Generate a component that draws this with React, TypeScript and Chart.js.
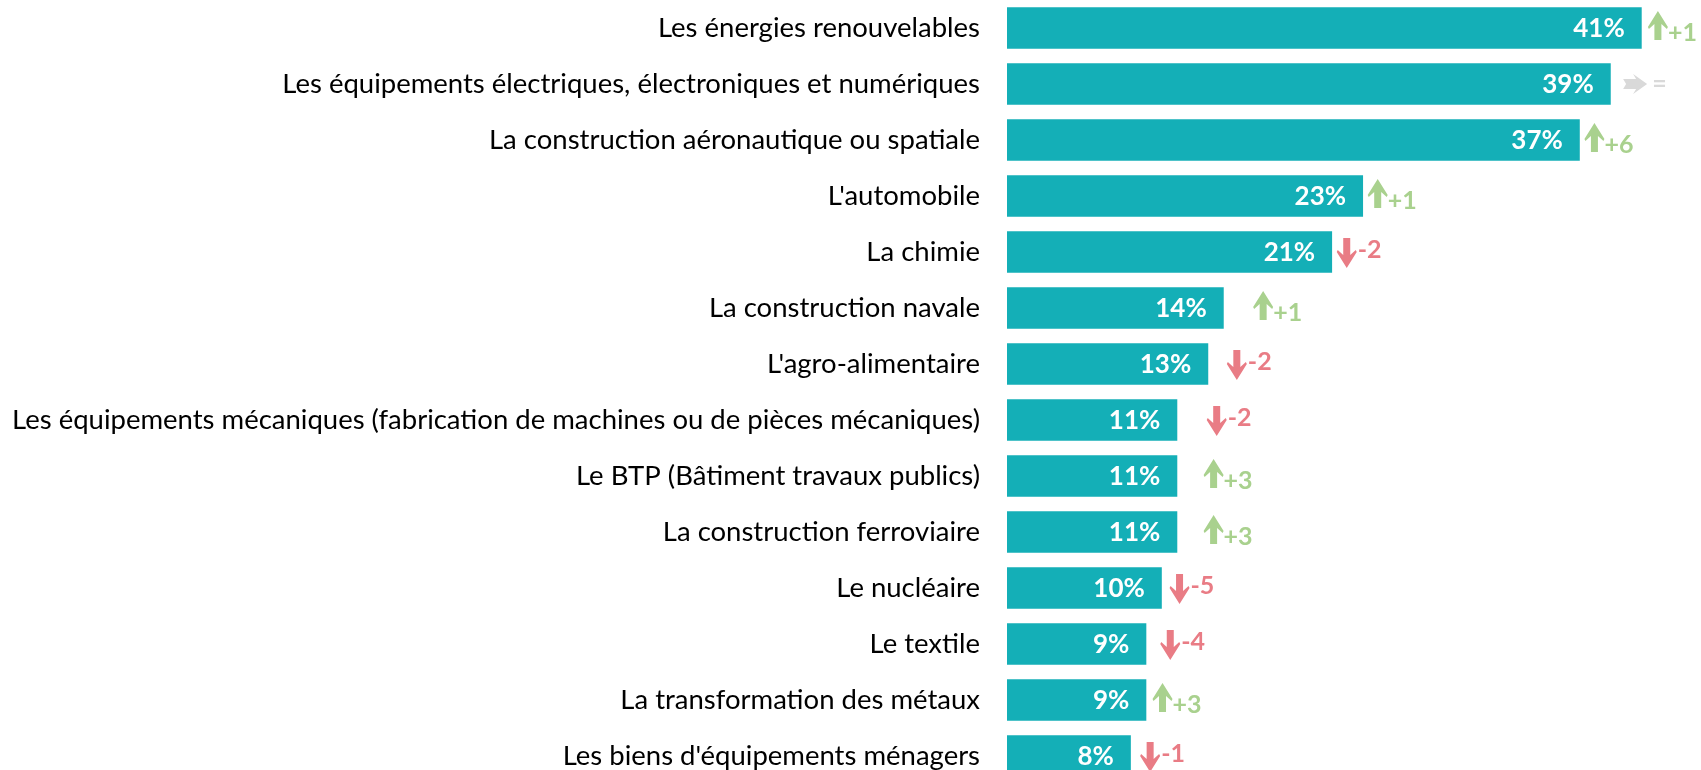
import React, { useEffect, useRef } from "react";
import { Chart, registerables } from "chart.js";

Chart.register(...registerables);

const categories = [
  "Les énergies renouvelables",
  "Les équipements électriques, électroniques et numériques",
  "La construction aéronautique ou spatiale",
  "L'automobile",
  "La chimie",
  "La construction navale",
  "L'agro-alimentaire",
  "Les équipements mécaniques (fabrication de machines ou de pièces mécaniques)",
  "Le BTP (Bâtiment travaux publics)",
  "La construction ferroviaire",
  "Le nucléaire",
  "Le textile",
  "La transformation des métaux",
  "Les biens d'équipements ménagers",
];

const values = [41, 39, 37, 23, 21, 14, 13, 11, 11, 11, 10, 9, 9, 8];

const deltas = ["+1", "=", "+6", "+1", "-2", "+1", "-2", "-2", "+3", "+3", "-5", "-4", "+3", "-1"];

// where the evolution marker sits, in value units (%)
const deltaPos = [41.4, 39.8, 37.3, 23.3, 21.3, 15.9, 14.2, 12.9, 12.7, 12.7, 10.5, 9.9, 9.4, 8.6];

const BAR_COLOR = "#14AFB7";
const UP_COLOR = "#A9D18E";
const DOWN_COLOR = "#E97C85";
const FLAT_COLOR = "#D9D9D9";
const FONT = "Lato";

function drawUp(ctx: CanvasRenderingContext2D, x: number, cy: number, color: string) {
  const w = 20, headH = 17, shaftW = 7, top = cy - 17, bottom = cy + 12;
  const cx = x + w / 2;
  ctx.fillStyle = color;
  ctx.beginPath();
  ctx.moveTo(cx, top);
  ctx.lineTo(x + w, top + headH - 1);
  ctx.lineTo(x + w - 1, top + headH + 1);
  ctx.lineTo(cx + shaftW / 2, top + headH - 4);
  ctx.lineTo(cx + shaftW / 2, bottom);
  ctx.lineTo(cx - shaftW / 2, bottom);
  ctx.lineTo(cx - shaftW / 2, top + headH - 4);
  ctx.lineTo(x + 1, top + headH + 1);
  ctx.lineTo(x, top + headH - 1);
  ctx.closePath();
  ctx.fill();
}

function drawDown(ctx: CanvasRenderingContext2D, x: number, cy: number, color: string) {
  const w = 20, headH = 17, shaftW = 7, top = cy - 14, bottom = cy + 16;
  const cx = x + w / 2;
  ctx.fillStyle = color;
  ctx.beginPath();
  ctx.moveTo(cx, bottom);
  ctx.lineTo(x + w, bottom - headH + 1);
  ctx.lineTo(x + w - 1, bottom - headH - 1);
  ctx.lineTo(cx + shaftW / 2, bottom - headH + 4);
  ctx.lineTo(cx + shaftW / 2, top);
  ctx.lineTo(cx - shaftW / 2, top);
  ctx.lineTo(cx - shaftW / 2, bottom - headH + 4);
  ctx.lineTo(x + 1, bottom - headH - 1);
  ctx.lineTo(x, bottom - headH + 1);
  ctx.closePath();
  ctx.fill();
}

function drawRight(ctx: CanvasRenderingContext2D, x: number, cy: number, color: string) {
  const w = 24, h = 20, shaftH = 10, headL = 14;
  const c = cy;
  ctx.fillStyle = color;
  ctx.beginPath();
  ctx.moveTo(x + w, c);
  ctx.lineTo(x + w - headL, c - h / 2);
  ctx.lineTo(x + w - headL + 3, c - shaftH / 2);
  ctx.lineTo(x, c - shaftH / 2);
  ctx.lineTo(x + 3, c);
  ctx.lineTo(x, c + shaftH / 2);
  ctx.lineTo(x + w - headL + 3, c + shaftH / 2);
  ctx.lineTo(x + w - headL, c + h / 2);
  ctx.closePath();
  ctx.fill();
}

const annotationsPlugin = {
  id: "annotations",
  afterDatasetsDraw(chart: any) {
    const ctx: CanvasRenderingContext2D = chart.ctx;
    const meta = chart.getDatasetMeta(0);
    const xScale = chart.scales.x;
    const yScale = chart.scales.y;
    ctx.save();
    ctx.font = `bold 26px ${FONT}`;
    ctx.fillStyle = "#FFFFFF";
    ctx.textAlign = "right";
    ctx.textBaseline = "middle";
    meta.data.forEach((bar: any, i: number) => {
      ctx.fillText(`${values[i]}%`, bar.x - 17, bar.y + 1);
    });
    ctx.font = `bold 25px ${FONT}`;
    ctx.textAlign = "left";
    ctx.textBaseline = "alphabetic";
    deltas.forEach((d, i) => {
      const x = xScale.getPixelForValue(deltaPos[i]);
      const cy = yScale.getPixelForValue(i);
      if (d.startsWith("+")) {
        drawUp(ctx, x, cy, UP_COLOR);
        ctx.fillStyle = UP_COLOR;
        ctx.fillText(d, x + 20, cy + 13);
      } else if (d.startsWith("-")) {
        drawDown(ctx, x, cy, DOWN_COLOR);
        ctx.fillStyle = DOWN_COLOR;
        ctx.fillText(d, x + 21, cy + 6);
      } else {
        drawRight(ctx, x, cy, FLAT_COLOR);
        ctx.fillStyle = FLAT_COLOR;
        ctx.textBaseline = "middle";
        ctx.fillText(d, x + 29, cy);
        ctx.textBaseline = "alphabetic";
      }
    });
    ctx.restore();
  },
};

export default function App() {
  const ref = useRef<HTMLCanvasElement | null>(null);

  useEffect(() => {
    if (!ref.current) return;
    const chart = new Chart(ref.current, {
      type: "bar",
      data: {
        labels: categories,
        datasets: [
          {
            data: values,
            backgroundColor: BAR_COLOR,
            borderWidth: 0,
            categoryPercentage: 1,
            barPercentage: 0.74,
          },
        ],
      },
      options: {
        indexAxis: "y",
        animation: false,
        responsive: false,
        maintainAspectRatio: false,
        layout: { padding: 0 },
        plugins: {
          legend: { display: false },
          tooltip: { enabled: false },
          title: { display: false },
        },
        scales: {
          x: {
            display: false,
            min: 0,
            max: 44.83,
          },
          y: {
            position: "left",
            grid: { display: false, drawTicks: false },
            border: { display: false },
            ticks: {
              padding: 27,
              color: "#000000",
              font: { family: FONT, size: 27.5 },
            },
            afterFit: (scale: any) => {
              scale.width = 1007;
              scale.paddingTop = 0;
              scale.paddingBottom = 0;
            },
          },
        },
      },
      plugins: [annotationsPlugin],
    });
    return () => chart.destroy();
  }, []);

  return (
    <div
      style={{
        position: "fixed",
        left: 0,
        top: 0,
        width: 1701,
        height: 770,
        overflow: "hidden",
        background: "#FFFFFF",
      }}
    >
      <canvas
        ref={ref}
        width={1701}
        height={784}
        style={{ display: "block", width: 1701, height: 784 }}
      />
    </div>
  );
}
